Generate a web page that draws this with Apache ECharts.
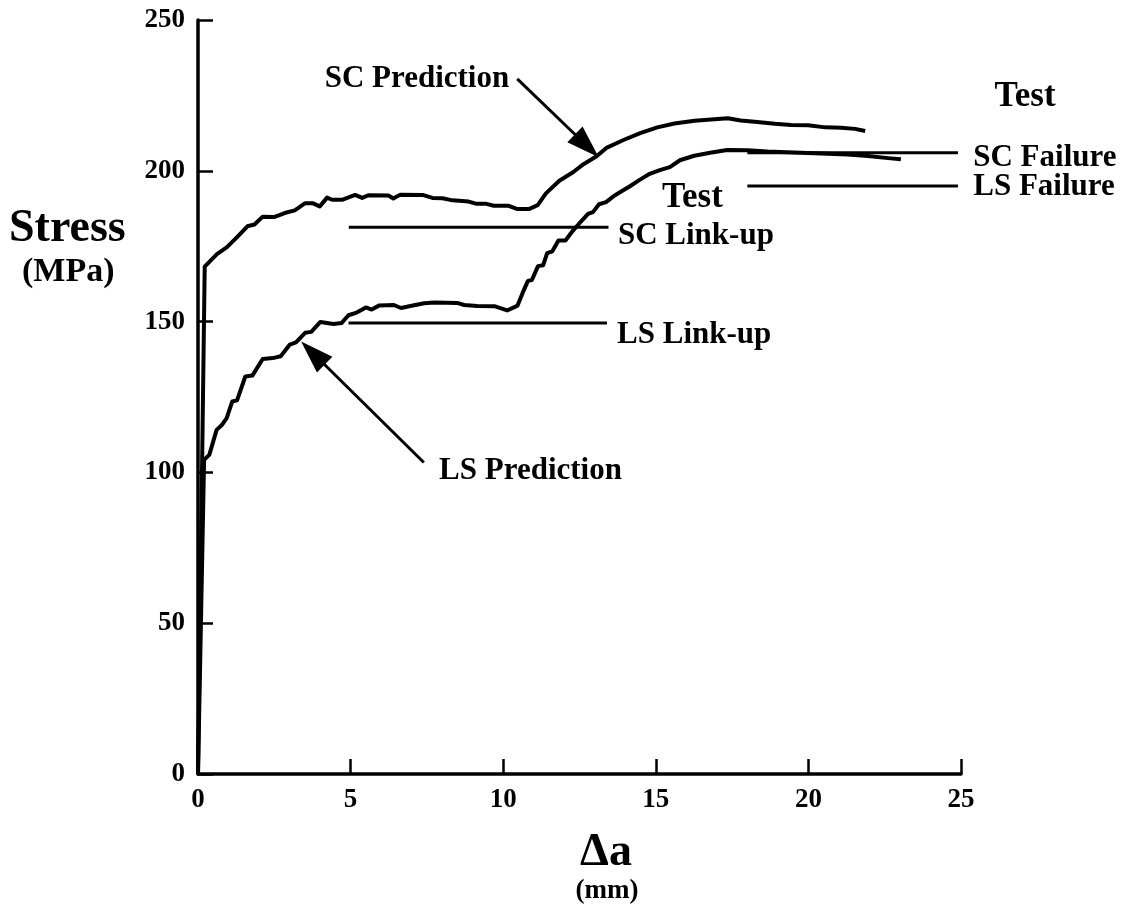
<!DOCTYPE html>
<html>
<head>
<meta charset="utf-8">
<script src="https://cdn.jsdelivr.net/npm/echarts@6/dist/echarts.min.js"></script>
<style>
  html, body { margin: 0; padding: 0; background: #fff; }
  #chart { width: 1123px; height: 919px; }
</style>
</head>
<body>
<div id="chart"></div>
<script>
// Crack-extension resistance: stress vs. crack growth Δa (mm)
const xTicks = [0, 5, 10, 15, 20, 25];
const yTicks = [0, 50, 100, 150, 200, 250];

// Predicted curves, [Δa (mm), stress (MPa)]
const scPrediction = [[0,0],[0.22,168.2],[0.62,172.4],[0.95,174.7],[1.28,178.0],[1.62,181.6],[1.85,182.2],[2.12,184.8],[2.51,184.7],[2.84,186.0],[3.17,186.9],[3.50,189.2],[3.77,189.2],[3.99,188.2],[4.23,191.1],[4.39,190.4],[4.72,190.4],[5.15,192.0],[5.38,191.0],[5.58,191.9],[6.24,191.8],[6.40,190.8],[6.63,192.1],[7.36,192.0],[7.68,191.0],[8.01,190.9],[8.34,190.2],[8.87,189.8],[9.10,189.1],[9.42,189.1],[9.69,188.4],[10.18,188.4],[10.47,187.3],[10.84,187.3],[11.13,188.6],[11.40,192.5],[11.84,196.7],[12.30,199.6],[12.63,202.2],[13.06,204.8],[13.40,207.7],[13.96,210.3],[14.49,212.5],[15.05,214.4],[15.61,215.7],[16.27,216.6],[16.70,216.9],[17.36,217.4],[17.78,216.7],[18.24,216.3],[18.90,215.6],[19.43,215.2],[19.99,215.1],[20.55,214.4],[21.07,214.3],[21.53,213.9],[21.86,213.2]];

const lsPrediction = [[0,0],[0.20,104.2],[0.37,105.8],[0.61,114.1],[0.78,115.7],[0.94,118.0],[1.12,123.5],[1.28,123.9],[1.55,131.8],[1.78,132.1],[2.12,137.6],[2.45,137.9],[2.71,138.5],[3.01,142.4],[3.21,143.1],[3.51,146.3],[3.71,146.6],[4.01,149.9],[4.44,149.2],[4.70,149.5],[4.93,152.1],[5.20,153.0],[5.50,154.7],[5.69,154.0],[5.93,155.3],[6.42,155.5],[6.65,154.5],[7.08,155.4],[7.41,156.1],[7.74,156.3],[8.49,156.2],[8.72,155.5],[9.15,155.2],[9.71,155.1],[10.13,153.7],[10.47,155.3],[10.64,159.6],[10.81,163.5],[10.94,163.8],[11.14,168.4],[11.31,168.7],[11.44,172.7],[11.61,173.3],[11.81,176.9],[12.04,176.9],[12.28,180.1],[12.54,183.1],[12.78,185.7],[12.94,186.3],[13.14,188.9],[13.37,189.6],[13.61,191.5],[13.81,192.8],[14.14,194.8],[14.47,197.0],[14.80,199.0],[15.13,200.2],[15.46,201.2],[15.79,203.5],[16.26,205.0],[16.78,206.0],[17.34,206.9],[18.00,206.8],[18.66,206.4],[19.97,205.9],[21.29,205.4],[21.95,204.9],[22.61,204.2],[23.03,203.8]];

// Measured (test) stress levels, drawn as horizontal lines
const testNames  = ['SC Link-up', 'LS Link-up', 'SC Failure', 'LS Failure'];
const testStress = [181.3, 149.5, 206.0, 195.0];
const testStart  = [4.94, 4.93, 18.0, 18.0];
const testEnd    = [13.45, 13.40, 24.9, 24.9];

const FONT = '"Liberation Serif", "Times New Roman", serif';
const chart = echarts.init(document.getElementById('chart'), null, { renderer: 'canvas' });

const axisCommon = {
  type: 'value',
  axisLine: { show: true, onZero: false, lineStyle: { color: '#000', width: 3.5 } },
  axisTick: { show: true, inside: true, length: 15, lineStyle: { color: '#000', width: 2.5 } },
  splitLine: { show: false },
  axisLabel: { color: '#000', fontFamily: FONT, fontWeight: 'bold', fontSize: 27 }
};

const series = [
  { name: 'SC Prediction', data: scPrediction },
  { name: 'LS Prediction', data: lsPrediction }
].map(s => ({
  type: 'line', name: s.name, data: s.data, showSymbol: false, silent: true,
  lineStyle: { color: '#000', width: 4, join: 'round' }, z: 3
}));

testNames.forEach((name, i) => {
  series.push({
    type: 'line', name: name, showSymbol: false, silent: true,
    data: [[testStart[i], testStress[i]], [testEnd[i], testStress[i]]],
    lineStyle: { color: '#000', width: 3 }, z: 2
  });
});

chart.setOption({
  animation: false,
  backgroundColor: '#fff',
  grid: { left: 198, right: 162, top: 20, bottom: 145, containLabel: false },
  xAxis: Object.assign({}, axisCommon, {
    min: xTicks[0], max: xTicks[xTicks.length - 1], interval: xTicks[1] - xTicks[0],
    axisLabel: Object.assign({}, axisCommon.axisLabel, { margin: 13 })
  }),
  yAxis: Object.assign({}, axisCommon, {
    min: yTicks[0], max: yTicks[yTicks.length - 1], interval: yTicks[1] - yTicks[0],
    axisLabel: Object.assign({}, axisCommon.axisLabel, { margin: 13 })
  }),
  series: series
});

// Annotations: text anchors and arrows given in data units
const px = (x, y) => chart.convertToPixel({ gridIndex: 0 }, [x, y]);

function textEl(str, p, size, align) {
  return {
    type: 'text', silent: true, z: 10,
    style: {
      text: str, x: p[0], y: p[1], fill: '#000',
      font: 'bold ' + size + 'px ' + FONT,
      textAlign: align || 'left', textVerticalAlign: 'middle',
      align: align || 'left', verticalAlign: 'middle'
    }
  };
}

function arrowEls(tailData, tipData) {
  const a = px(tailData[0], tailData[1]);
  const b = px(tipData[0], tipData[1]);
  const dx = b[0] - a[0], dy = b[1] - a[1];
  const L = Math.hypot(dx, dy);
  const ux = dx / L, uy = dy / L;
  const headLen = 33, headHalf = 11;
  const base = [b[0] - ux * headLen, b[1] - uy * headLen];
  return [
    { type: 'line', silent: true, z: 9,
      shape: { x1: a[0], y1: a[1], x2: base[0] + ux * 2, y2: base[1] + uy * 2 },
      style: { stroke: '#000', lineWidth: 3 } },
    { type: 'polygon', silent: true, z: 9,
      shape: { points: [b, [base[0] - uy * headHalf, base[1] + ux * headHalf], [base[0] + uy * headHalf, base[1] - ux * headHalf]] },
      style: { fill: '#000' } }
  ];
}

const labelOffsets = [[0.31, -3.0], [0.33, -3.9], [0.5, -1.8], [0.5, -0.4]];
const graphics = [];
testNames.forEach((name, i) => {
  graphics.push(textEl(name, px(testEnd[i] + labelOffsets[i][0], testStress[i] + labelOffsets[i][1]), 31));
});
graphics.push(textEl('Test', px(16.2, 190.9), 35, 'center'));
graphics.push(textEl('Test', px(27.1, 224.5), 35, 'center'));
graphics.push(textEl('SC Prediction', px(4.15, 230.3), 31));
graphics.push(textEl('LS Prediction', px(7.9, 100.6), 31));
graphics.push(...arrowEls([10.46, 230.5], [13.13, 204.5]));
graphics.push(...arrowEls([7.40, 103.3], [3.38, 143.4]));

// Axis titles
graphics.push(textEl('Stress', [9, 229], 46));
graphics.push(textEl('(MPa)', [22, 272], 34));
graphics.push(textEl('Δa', [606, 853], 46, 'center'));
graphics.push(textEl('(mm)', [607, 891], 27, 'center'));

chart.setOption({ graphic: graphics });
</script>
</body>
</html>
